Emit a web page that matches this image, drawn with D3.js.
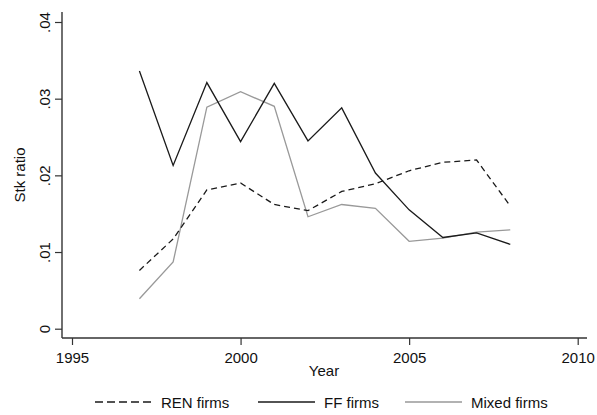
<!DOCTYPE html>
<html>
<head>
<meta charset="utf-8">
<script src="https://cdn.jsdelivr.net/npm/d3@7"></script>
<style>
  html, body { margin: 0; padding: 0; background: #fff; }
  svg { display: block; }
  text { font-family: "Liberation Sans", Arial, sans-serif; fill: #111; }
</style>
</head>
<body>
<svg id="chart" width="597" height="415"></svg>
<script>
const years = [1997, 1998, 1999, 2000, 2001, 2002, 2003, 2004, 2005, 2006, 2007, 2008];
const renFirms   = [0.0076, 0.0117, 0.0181, 0.0190, 0.0162, 0.0154, 0.0179, 0.0189, 0.0206, 0.0217, 0.0220, 0.0160];
const ffFirms    = [0.0336, 0.0213, 0.0321, 0.0244, 0.0320, 0.0245, 0.0288, 0.0203, 0.0155, 0.0119, 0.0125, 0.0110];
const mixedFirms = [0.0039, 0.0087, 0.0289, 0.0309, 0.0290, 0.0146, 0.0162, 0.0157, 0.0114, 0.0118, 0.0126, 0.0129];
const xTicks = [1995, 2000, 2005, 2010];
const yTicks = [0, 0.01, 0.02, 0.03, 0.04];
const seriesNames = ["REN firms", "FF firms", "Mixed firms"];

const svg = d3.select("#chart");
const x = d3.scaleLinear().domain([1995, 2010]).range([72, 577.7]);
const y = d3.scaleLinear().domain([0, 0.04]).range([328.7, 22]);

const axisColor = "#333";
// axis lines (extended like Stata plot region)
svg.append("line").attr("x1", 62).attr("x2", 62).attr("y1", 12).attr("y2", 338)
  .attr("stroke", axisColor).attr("stroke-width", 1.4);
svg.append("line").attr("x1", 62).attr("x2", 587).attr("y1", 338).attr("y2", 338)
  .attr("stroke", axisColor).attr("stroke-width", 1.4);

const fmtY = d => d === 0 ? "0" : d3.format(".2f")(d).replace(/^0/, "");

const yAxis = svg.append("g").attr("transform", "translate(62,0)")
  .call(d3.axisLeft(y).tickValues(yTicks).tickSize(7).tickFormat(fmtY));
yAxis.select(".domain").remove();
yAxis.selectAll(".tick line").attr("stroke", axisColor).attr("stroke-width", 1.2);
yAxis.selectAll(".tick text")
  .attr("x", 0).attr("y", 0).attr("dy", 0)
  .attr("transform", "translate(-12,0) rotate(-90)")
  .attr("text-anchor", "middle")
  .style("font-size", "15px")
  .style("font-family", "'Liberation Sans', Arial, sans-serif")
  .attr("fill", "#111");

const xAxis = svg.append("g").attr("transform", "translate(0,338)")
  .call(d3.axisBottom(x).tickValues(xTicks).tickSize(7).tickFormat(d3.format("d")));
xAxis.select(".domain").remove();
xAxis.selectAll(".tick line").attr("stroke", axisColor).attr("stroke-width", 1.2);
xAxis.selectAll(".tick text")
  .attr("y", 25).attr("dy", 0)
  .style("font-size", "15px")
  .style("font-family", "'Liberation Sans', Arial, sans-serif")
  .attr("fill", "#111");

// axis titles
svg.append("text").attr("x", 324).attr("y", 376).attr("text-anchor", "middle")
  .style("font-size", "15px").text("Year");
svg.append("text").attr("transform", "translate(25,175) rotate(-90)")
  .attr("text-anchor", "middle").style("font-size", "15px").text("Stk ratio");

const line = d3.line().x((d, i) => x(years[i])).y(d => y(d));

const styles = [
  { data: renFirms, color: "#1a1a1a", width: 1.3, dash: "6,4" },
  { data: ffFirms, color: "#1a1a1a", width: 1.3, dash: null },
  { data: mixedFirms, color: "#999", width: 1.3, dash: null }
];
// draw mixed first (behind), then others
[2, 0, 1].forEach(k => {
  const s = styles[k];
  svg.append("path").datum(s.data)
    .attr("d", line)
    .attr("fill", "none")
    .attr("stroke", s.color)
    .attr("stroke-width", s.width)
    .attr("stroke-dasharray", s.dash);
});

// legend
const legendX = [95, 258, 405];
seriesNames.forEach((name, k) => {
  const s = styles[k];
  const g = svg.append("g").attr("transform", `translate(${legendX[k]},402)`);
  g.append("line").attr("x1", 0).attr("x2", 57).attr("y1", 0).attr("y2", 0)
    .attr("stroke", s.color).attr("stroke-width", s.width)
    .attr("stroke-dasharray", s.dash ? "8,4" : null);
  g.append("text").attr("x", 66).attr("y", 5.5).style("font-size", "15px").text(name);
});
</script>
</body>
</html>
